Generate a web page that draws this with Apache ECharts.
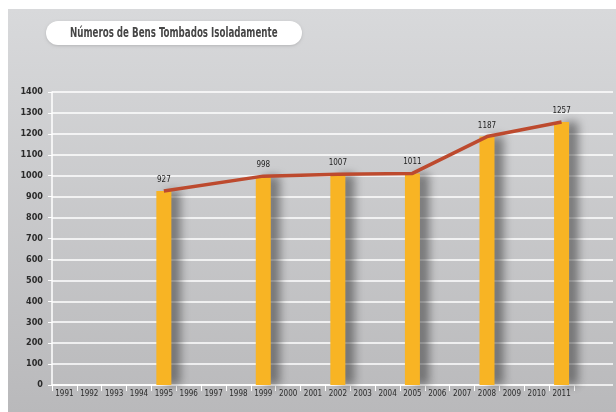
<!DOCTYPE html>
<html><head><meta charset="utf-8">
<script src="https://cdn.jsdelivr.net/npm/echarts@6/dist/echarts.min.js"></script>
<style>html,body{margin:0;padding:0;background:#fff}#c{width:616px;height:412px}</style>
</head><body><div id="c"></div>
<script>
var titleText = 'Números de Bens Tombados Isoladamente';
var years = ['1991','1992','1993','1994','1995','1996','1997','1998','1999','2000','2001','2002','2003','2004','2005','2006','2007','2008','2009','2010','2011'];
var bensTombados = [null,null,null,null,927,null,null,null,998,null,null,1007,null,null,1011,null,null,1187,null,null,1257];
var yTicks = {min:0, max:1400, interval:100};

var FONT = "'DejaVu Sans Condensed','Liberation Sans Narrow',sans-serif";
var chart = echarts.init(document.getElementById('c'), null, {renderer:'canvas'});
chart.setOption({
  backgroundColor:'#ffffff',
  animation:false,
  graphic:[{
    type:'rect', z:-10, silent:true,
    shape:{x:8,y:9,width:608,height:403},
    style:{fill:new echarts.graphic.LinearGradient(0,0,0,1,[{offset:0,color:'#d8d9db'},{offset:1,color:'#b9b9bb'}])}
  },{
    type:'rect', z:-5, silent:true,
    shape:{x:46,y:21,width:256,height:24,r:12},
    style:{fill:'#ffffff', shadowColor:'rgba(0,0,0,0.15)', shadowBlur:3, shadowOffsetY:1}
  },{
    type:'text', z:-4, silent:true, x:70, y:33, scaleX:0.69,
    style:{text:titleText, fill:'#454545', fontFamily:FONT, fontWeight:'bold', fontSize:14, verticalAlign:'middle', align:'left'}
  }],
  grid:[
    {left:52, right:42, top:92, bottom:27, containLabel:false},
    {left:52, right:3, top:92, bottom:27, containLabel:false}
  ],
  xAxis:[
    {type:'category', data:years, gridIndex:0, boundaryGap:true,
     axisLine:{lineStyle:{color:'#ffffff', width:1.5}},
     axisTick:{show:true, interval:0, length:6, lineStyle:{color:'#ffffff', width:1}},
     axisLabel:{interval:0, color:'#2a2a2a', fontFamily:FONT, fontSize:8, margin:5}},
    {type:'value', gridIndex:1, show:false, min:0, max:1}
  ],
  yAxis:[
    {type:'value', gridIndex:0, min:yTicks.min, max:yTicks.max, interval:yTicks.interval,
     axisLine:{show:true, lineStyle:{color:'#ffffff', width:1.5}},
     axisTick:{show:true, length:4, lineStyle:{color:'#ffffff'}},
     splitLine:{show:false},
     axisLabel:{color:'#2a2a2a', fontFamily:FONT, fontWeight:'bold', fontSize:9, margin:9,
       formatter:function(v){return String(v);}}},
    {type:'value', gridIndex:1, min:yTicks.min, max:yTicks.max, interval:yTicks.interval,
     axisLine:{show:false}, axisTick:{show:false}, axisLabel:{show:false},
     splitLine:{show:true, lineStyle:{color:'#ffffff', width:1.5}}}
  ],
  series:[
    {type:'bar', xAxisIndex:0, yAxisIndex:0, data:bensTombados, barWidth:15, z:3,
     itemStyle:{color:'#f8b424', shadowColor:'rgba(50,50,50,0.55)', shadowBlur:10, shadowOffsetX:9},
     label:{show:true, position:'top', distance:7, color:'#222', fontFamily:FONT, fontSize:8}},
    {type:'line', xAxisIndex:0, yAxisIndex:0, data:bensTombados, connectNulls:true, z:4,
     showSymbol:false, symbol:'none',
     lineStyle:{color:'#bd4a2e', width:3.5}}
  ]
});
</script></body></html>
